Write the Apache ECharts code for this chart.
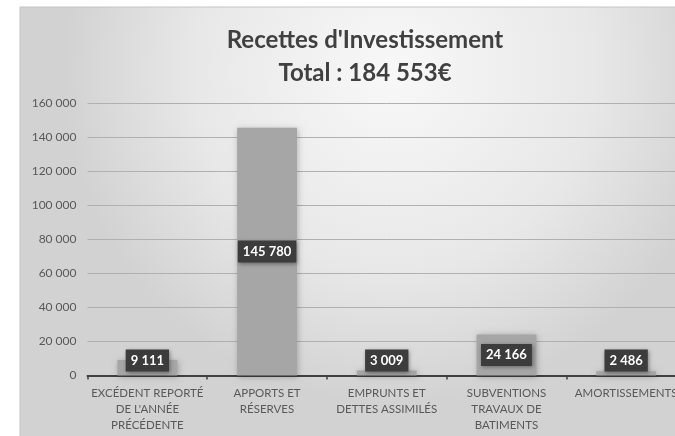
<!DOCTYPE html>
<html>
<head>
<meta charset="utf-8">
<script src="https://cdn.jsdelivr.net/npm/echarts@6/dist/echarts.min.js"></script>
<style>
  html, body { margin: 0; padding: 0; background: #fff; overflow: hidden; }
  /* the original picture is cropped on the right, so the canvas runs a bit past the window */
  #chart { width: 686px; height: 436px; }
</style>
</head>
<body>
<div id="chart"></div>
<script>
// données
const categories = [
  "EXCÉDENT REPORTÉ\nDE L'ANNÉE\nPRÉCÉDENTE",
  'APPORTS ET\nRÉSERVES',
  'EMPRUNTS ET\nDETTES ASSIMILÉS',
  'SUBVENTIONS\nTRAVAUX DE\nBATIMENTS',
  'AMORTISSEMENTS'
]
const values = [9111, 145780, 3009, 24166, 2486]
const titleLines = ["Recettes d'Investissement", 'Total : 184 553€']

const font = 'Lato, "Open Sans", sans-serif'

// format "145 780"
function fmt(v) {
  return String(v).replace(/\B(?=(\d{3})+(?!\d))/g, ' ')
}

const chart = echarts.init(document.getElementById('chart'))
const option = {
  animation: false,
  textStyle: { fontFamily: font },
  graphic: [
    {
      type: 'rect',
      z: -10,
      silent: true,
      shape: { x: 20, y: 7, width: 680, height: 440 },
      style: {
        fill: {
          type: 'radial',
          x: 0.55,
          y: 0.15,
          r: 0.75,
          colorStops: [
            { offset: 0, color: '#f8f8f8' },
            { offset: 0.6, color: '#e8e8e8' },
            { offset: 1, color: '#d2d2d2' }
          ]
        },
        stroke: '#c4c4c4',
        lineWidth: 1
      }
    }
  ],
  title: {
    text: titleLines.join('\n'),
    left: 360,
    textAlign: 'center',
    top: 19,
    textStyle: {
      fontFamily: font,
      fontSize: 24,
      fontWeight: 'bold',
      color: '#404040',
      lineHeight: 33
    }
  },
  grid: {
    left: 87.5,
    right: 0,
    top: 103.5,
    bottom: 60.5,
    containLabel: false
  },
  xAxis: {
    type: 'category',
    data: categories,
    axisLine: { lineStyle: { color: '#404040', width: 2 } },
    axisTick: { show: true, length: 4, lineStyle: { color: '#404040', width: 1.5 } },
    axisLabel: {
      interval: 0,
      margin: 10,
      color: '#595959',
      fontSize: 11.5,
      lineHeight: 16,
      fontFamily: font
    }
  },
  yAxis: {
    type: 'value',
    min: 0,
    max: 160000,
    interval: 20000,
    axisLine: { show: false },
    axisTick: { show: false },
    axisLabel: {
      margin: 11,
      color: '#595959',
      fontSize: 12,
      fontFamily: font,
      formatter: v => fmt(v)
    },
    splitLine: { lineStyle: { color: '#b0b0b0', width: 1 } }
  },
  series: [
    {
      type: 'bar',
      barWidth: '50%',
      data: values.map(v => ({
        value: v,
        label: v < 15000 ? { position: 'insideBottom', distance: 4 } : { position: 'inside' }
      })),
      itemStyle: {
        color: '#a6a6a6',
        shadowBlur: 6,
        shadowColor: 'rgba(0,0,0,0.25)',
        shadowOffsetX: 1,
        shadowOffsetY: 1
      },
      label: {
        show: true,
        formatter: p => fmt(p.value),
        color: '#ffffff',
        fontWeight: 'bold',
        fontSize: 13,
        fontFamily: font,
        backgroundColor: '#3c3c3c',
        padding: [5, 5, 4, 5],
        shadowBlur: 4,
        shadowColor: 'rgba(0,0,0,0.4)',
        shadowOffsetX: 1,
        shadowOffsetY: 1
      }
    }
  ]
}
chart.setOption(option)
window.onresize = chart.resize
</script>
</body>
</html>
